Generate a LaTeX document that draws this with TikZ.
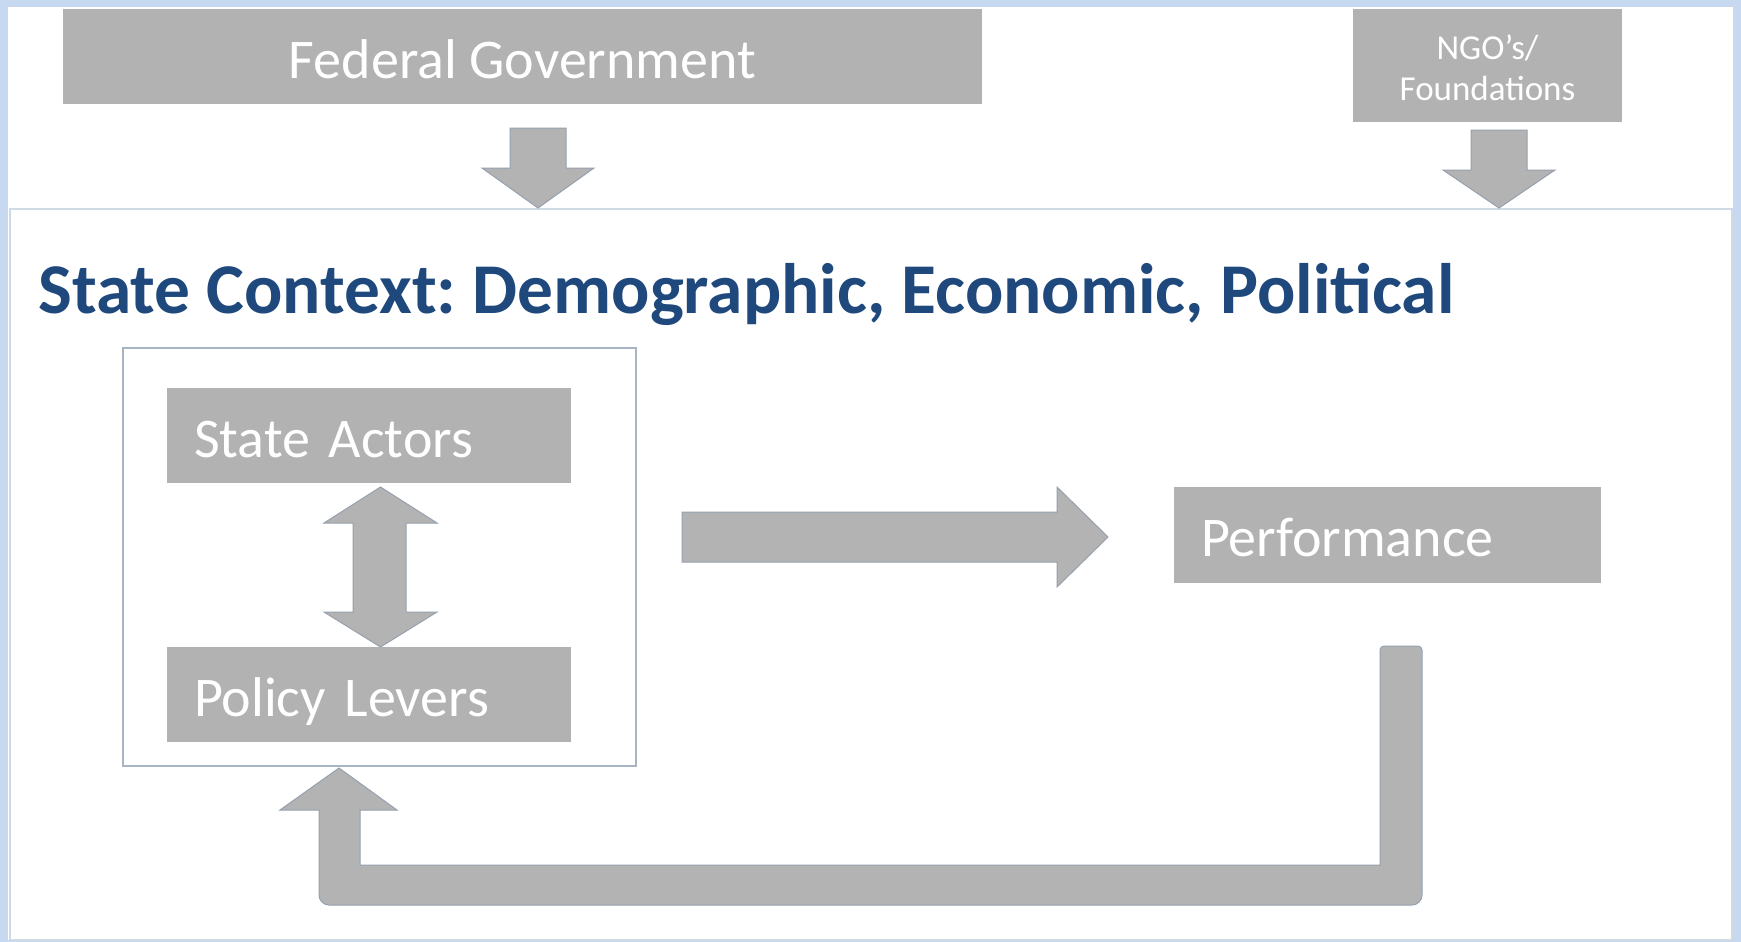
\documentclass[tikz,border=0pt]{standalone}
\usepackage{fontspec}
\setmainfont{Carlito}
\usetikzlibrary{calc}
\definecolor{framecol}{HTML}{C6D9F1}
\definecolor{boxgray}{HTML}{B2B2B2}
\definecolor{arrowgray}{HTML}{B3B3B3}
\definecolor{arrowedge}{HTML}{95A1AF}
\definecolor{ctxborder}{HTML}{D0DAE4}
\definecolor{ctxfill}{HTML}{FFFFFF}
\definecolor{innerborder}{HTML}{A7B4C3}
\definecolor{titleblue}{HTML}{1F497D}
\frenchspacing
\begin{document}
\begin{tikzpicture}[x=0.5pt,y=-0.5pt,
  greybox/.style={fill=boxgray, draw=none, text=white, inner sep=0pt},
  bigtext/.style={font=\fontsize{28pt}{34pt}\selectfont, text height=21.5pt, text depth=0pt},
  blockarrow/.style={fill=arrowgray, draw=arrowedge, line width=0.5pt, line join=miter},
]
\useasboundingbox (0,0) rectangle (1741,942);
% frame
\fill[framecol] (0,0) rectangle (1741,942);
\fill[white] (8,7) rectangle (1733,940);

% state context panel
\node[draw=ctxborder, fill=ctxfill, line width=1pt, inner sep=0pt,
      minimum width=861pt, minimum height=365.5pt] (ctx) at (871,574.5) {};
\node[anchor=base west, inner sep=0pt, text=titleblue,
      font=\bfseries\fontsize{35.7pt}{42pt}\selectfont] (title) at (38,313)
      {State Context: Demographic, Economic, Political};

% top boxes
\node[greybox, bigtext, minimum width=459.5pt, minimum height=47.5pt] (fed) at (522.5,56.5) {Federal Government};
\node[greybox, minimum width=134.5pt, minimum height=56.5pt] (ngo) at (1487.5,65.5) {};
\node[text=white, align=center, inner sep=0pt, font=\fontsize{17.5pt}{20.5pt}\selectfont] (ngotext) at (ngo.center) [yshift=-1.2pt] {NGO’s/\\Foundations};

% inner container
\node[draw=innerborder, fill=white, line width=0.75pt, inner sep=0pt,
      minimum width=256.5pt, minimum height=209pt] (inner) at (379.5,557) {};
\node[greybox, bigtext, minimum width=202pt, minimum height=47.5pt, text width=175pt, align=left] (actors) at (369,435.5) {State Actors};
\node[greybox, bigtext, minimum width=202pt, minimum height=47.5pt, text width=175pt, align=left] (levers) at (369,694.5) {Policy Levers};
\node[greybox, bigtext, minimum width=213.5pt, minimum height=48pt, text width=186.5pt, align=left] (perf) at (1387.5,535) {Performance};

% block arrows
\draw[blockarrow] (510,128) -- (566,128) -- (566,168) -- (594,168) -- (538,208) -- (482,168) -- (510,168) -- cycle;
\draw[blockarrow] (1471,130) -- (1527,130) -- (1527,170) -- (1555,170) -- (1499,208) -- (1443,170) -- (1471,170) -- cycle;
\draw[blockarrow] (353,523) -- (324,523) -- (380.5,487) -- (437,523) -- (406,523) -- (406,612) -- (437,612) -- (380.5,647) -- (324,612) -- (353,612) -- cycle;
\draw[blockarrow] (682,512) -- (1057,512) -- (1057,487) -- (1108,537) -- (1057,587) -- (1057,562) -- (682,562) -- cycle;
\draw[blockarrow] (1380,865) -- (360,865) -- (360,810) -- (397,810) -- (339,768) -- (280,810) -- (319,810)
   [rounded corners=5pt] -- (319,905) -- (1422,905) [rounded corners=2pt] -- (1422,646) -- (1380,646) [sharp corners] -- cycle;
\end{tikzpicture}
\end{document}
